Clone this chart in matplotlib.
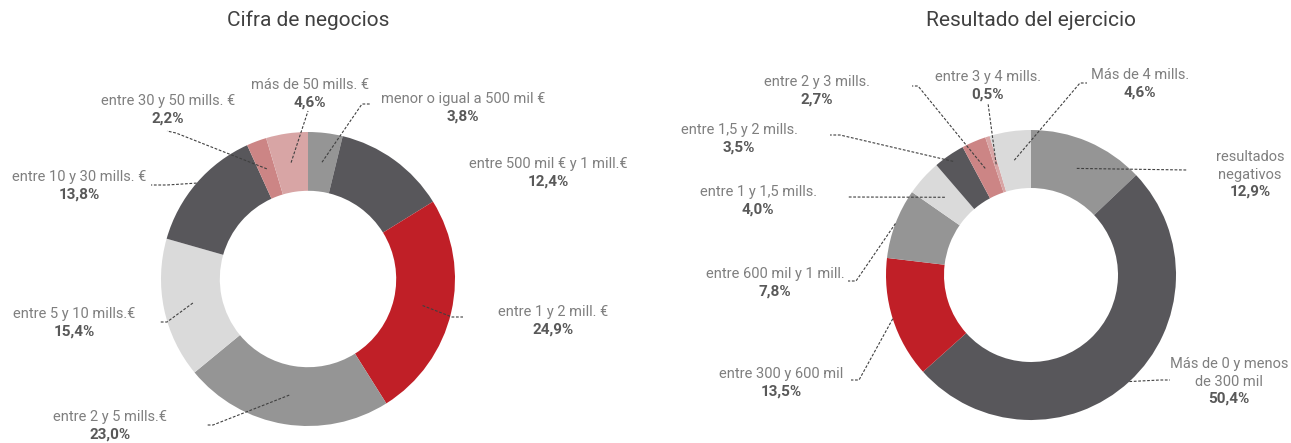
import numpy as np
import matplotlib.pyplot as plt

plt.rcParams['font.family'] = ['Roboto', 'DejaVu Sans']

W_PX, H_PX = 1291, 443

# Cifra de negocios
cifra_labels = ['menor o igual a 500 mil €', 'entre 500 mil € y 1 mill.€',
                'entre 1 y 2 mill. €', 'entre 2 y 5 mills.€',
                'entre 5 y 10 mills.€', 'entre 10 y 30 mills. €',
                'entre 30 y 50 mills. €', 'más de 50 mills. €']
cifra_pct = [3.8, 12.4, 24.9, 23.0, 15.4, 13.8, 2.2, 4.6]

# Resultado del ejercicio
result_labels = ['resultados\nnegativos', 'Más de 0 y menos\nde 300 mil',
                 'entre 300 y 600 mil', 'entre 600 mil y 1 mill.',
                 'entre 1 y 1,5 mills.', 'entre 1,5 y 2 mills.',
                 'entre 2 y 3 mills.', 'entre 3 y 4 mills.', 'Más de 4 mills.']
result_pct = [12.9, 50.4, 13.5, 7.8, 4.0, 3.5, 2.7, 0.5, 4.6]

DARK = '#58575b'
RED = '#c01f27'
MID = '#959595'
LIGHT = '#dadada'
PINK = '#cc8585'
PINK2 = '#d8a5a5'
cifra_colors = [MID, DARK, RED, MID, LIGHT, DARK, PINK, PINK2]
result_colors = [MID, DARK, RED, MID, LIGHT, DARK, PINK, PINK2, LIGHT]

# label layout in pixels: text centre x, first line y, leader radius
# fraction, elbow point, end point (None = no leader)
cifra_layout = [
    (463, 99, 0.8, (362, 104), (370, 104)),
    (548, 164, None, None, None),
    (553, 312, 0.8, (452, 317), (463, 317)),
    (110, 417, 0.8, (213, 425), (207, 425)),
    (74, 314, 0.8, (167, 322), (160, 322)),
    (79, 177, 1.0, (167, 185), (151, 185)),
    (168, 101, 0.8, (176, 133), (167, 131)),
    (310, 85, 0.8, (308, 111), (308, 111)),
]
result_layout = [
    (1250, 157, 0.8, (1187, 170), (1187, 170)),
    (1229, 364, 1.0, (1160, 380), (1170, 380)),
    (781, 374, 1.0, (859, 380), (851, 380)),
    (775, 274, 1.0, (856, 281), (848, 281)),
    (758, 192, 0.8, (848, 197), (848, 197)),
    (739, 130, 0.95, (840, 135), (830, 135)),
    (817, 82, 0.8, (918, 86), (912, 86)),
    (988, 77, 0.8, (988, 103), (988, 103)),
    (1140, 75, 0.8, (1080, 83), (1087, 83)),
]
LINE_H = 17.5

fig = plt.figure(figsize=(W_PX / 100, H_PX / 100), dpi=100)
ax = fig.add_axes([0, 0, 1, 1])


def fy(y):
    return H_PX - y


def donut(values, colors, labels, layout, cx, cy, r, title):
    wedges, _ = ax.pie(values, colors=colors, startangle=90, counterclock=False,
                       center=(cx, fy(cy)), radius=r,
                       wedgeprops=dict(width=r * 0.4, edgecolor='none'))
    ax.text(cx, fy(20), title, ha='center', va='center', fontsize=15,
            color='#404040')
    for w, lab, v, (tx, ty, rf, elbow, end) in zip(wedges, labels, values, layout):
        lines = lab.split('\n')
        for i, ln in enumerate(lines):
            ax.text(tx, fy(ty + i * LINE_H), ln, ha='center', va='center',
                    fontsize=10.5, color='#7f7f7f')
        pct = f'{v:.1f}'.replace('.', ',') + '%'
        ax.text(tx, fy(ty + LINE_H * len(lines)), pct, ha='center', va='center',
                fontsize=11, color='#595959', fontweight='bold')
        if rf is None:
            continue
        mid = np.deg2rad((w.theta1 + w.theta2) / 2)
        sx = cx + rf * r * np.cos(mid)
        sy = fy(cy) + rf * r * np.sin(mid)
        ax.plot([sx, elbow[0], end[0]], [sy, fy(elbow[1]), fy(end[1])],
                color='#404040', lw=0.8, ls=(0, (2.5, 1.5)))


donut(cifra_pct, cifra_colors, cifra_labels, cifra_layout, 308, 279, 147,
      'Cifra de negocios')
donut(result_pct, result_colors, result_labels, result_layout, 1031, 275, 145,
      'Resultado del ejercicio')

ax.set_xlim(0, W_PX)
ax.set_ylim(0, H_PX)
ax.set_aspect('equal')
ax.axis('off')

fig.savefig('out.png', dpi=100, facecolor='white')
